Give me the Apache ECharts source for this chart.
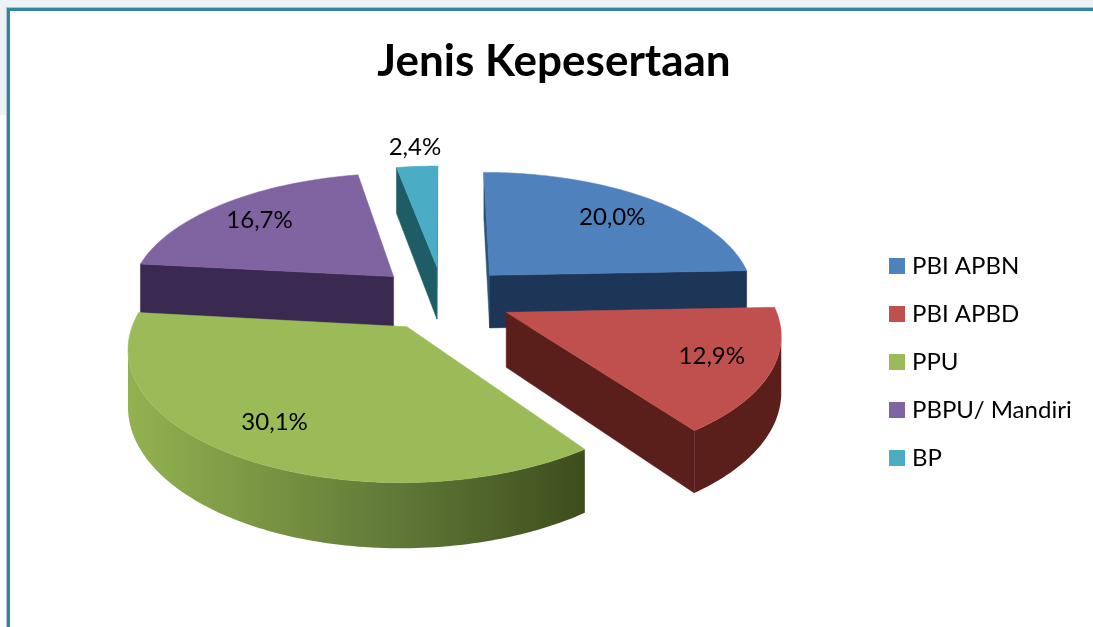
<!DOCTYPE html>
<html>
<head>
<meta charset="utf-8">
<style>html,body{margin:0;padding:0;background:#fff}#c{width:1093px;height:627px}</style>
<script src="https://cdn.jsdelivr.net/npm/echarts@6/dist/echarts.min.js"></script>
</head>
<body>
<div id="c"></div>
<script>
const categories = ['PBI APBN', 'PBI APBD', 'PPU', 'PBPU/ Mandiri', 'BP'];
const seriesValues = [20.0, 12.9, 30.1, 16.7, 2.4];
const titleText = 'Jenis Kepesertaan';

const topColors = ['#4F81BD', '#C0504D', '#9BBB59', '#8064A2', '#4BACC6'];
const wallColors = ['#1D3557', '#5A1F1B', '#6F8A3C', '#3A2950', '#1E5C66'];
const drawOrder = [2, 3, 3, 2, 2];
// label placement: radial position on the slice plus a small screen nudge
const labelPlace = [[0.71, 7, -2], [0.80, -3, -3], [0.87, 8, -17], [0.74, -6, -1], [1.12, 0, -9]];

const FONT = 'Lato, Carlito, sans-serif';
const P = {cx: 443, cy: 298, rx: 266, ry: 124, p: 0.145, explode: 0.26, depth: 54};

const total = seriesValues.reduce((a, b) => a + b, 0);
const starts = [];
seriesValues.reduce((acc, v, i) => { starts[i] = acc; return acc + v; }, 0);

function project(u, v, z) {
  const s = 1 / (1 - P.p * v);
  return [P.cx + P.rx * u * s, P.cy + P.ry * v * s + (z || 0) * P.depth * s];
}

function renderSlice(idx) {
  return function (params, api) {
    const a0 = starts[idx] / total * Math.PI * 2;
    const a1 = (starts[idx] + api.value(0)) / total * Math.PI * 2;
    const mid = (a0 + a1) / 2;
    const ou = Math.sin(mid) * P.explode, ov = -Math.cos(mid) * P.explode;
    const g = (r, a) => [ou + r * Math.sin(a), ov - r * Math.cos(a)];
    const steps = Math.max(6, Math.ceil((a1 - a0) / 0.02));
    const ground = [[ou, ov]];
    for (let k = 0; k <= steps; k++) ground.push(g(1, a0 + (a1 - a0) * k / steps));
    const top = ground.map(q => project(q[0], q[1], 0));
    const bot = ground.map(q => project(q[0], q[1], 1));
    const children = [];
    const wall = (i, j, fill) => ({
      type: 'polygon', silent: true,
      shape: {points: [top[i], top[j], bot[j], bot[i]]},
      style: {fill: fill, stroke: fill, lineWidth: 0.5}
    });
    const n = top.length;
    // radial edges that face the viewer
    if (top[1][0] < top[0][0]) children.push(wall(0, 1, idx === 0 ? '#2A5578' : wallColors[idx]));
    if (top[0][0] < top[n - 1][0]) children.push(wall(n - 1, 0, wallColors[idx]));
    // outer arc, front-facing run
    const run = [];
    for (let i = 1; i < n - 1; i++) if (top[i + 1][0] < top[i][0]) { if (!run.length) run.push(i); run.push(i + 1); }
    if (run.length > 1) {
      const pts = run.map(i => top[i]).concat(run.slice().reverse().map(i => bot[i]));
      const fill = idx === 2
        ? {type: 'linear', x: 130, y: 0, x2: 590, y2: 0, global: true, colorStops: [
            {offset: 0, color: '#92B251'}, {offset: 0.37, color: '#728D3F'},
            {offset: 0.6, color: '#5F7636'}, {offset: 1, color: '#3C4C1C'}]}
        : wallColors[idx];
      children.push({type: 'polygon', silent: true, shape: {points: pts}, style: {fill: fill, stroke: 'none'}});
    }
    children.push({type: 'polygon', silent: true, shape: {points: top},
      style: {fill: topColors[idx], stroke: topColors[idx], lineWidth: 0.5}});
    const lp = labelPlace[idx];
    const lg = g(lp[0], mid);
    const lxy = project(lg[0], lg[1], 0);
    children.push({type: 'text', silent: true, z2: 20, style: {
      x: lxy[0] + lp[1], y: lxy[1] + lp[2],
      text: api.value(0).toFixed(1).replace('.', ',') + '%',
      font: '24px ' + FONT, fill: '#000', align: 'center', verticalAlign: 'middle'
    }});
    return {type: 'group', children: children};
  };
}

const chart = echarts.init(document.getElementById('c'), null, {renderer: 'canvas'});
chart.setOption({
  animation: false,
  backgroundColor: '#ffffff',
  title: {
    text: titleText, left: 549, top: 35, textAlign: 'center',
    textStyle: {fontFamily: FONT, fontWeight: 'bold', fontSize: 44, color: '#000'}
  },
  legend: {
    orient: 'vertical', left: 884, top: 249, selectedMode: false,
    icon: 'rect', itemWidth: 16, itemHeight: 16, itemGap: 24,
    data: categories,
    textStyle: {fontFamily: FONT, fontSize: 24, color: '#000', padding: [0, 0, 0, 2]}
  },
  graphic: [
    {type: 'rect', silent: true, z: -5, shape: {x: 0, y: 0, width: 1093, height: 8}, style: {fill: '#EEF1F6'}},
    {type: 'rect', silent: true, z: -5, shape: {x: 0, y: 0, width: 7, height: 115}, style: {fill: '#EEF1F6'}},
    {type: 'rect', silent: true, z: -4, shape: {x: 6, y: 7, width: 1087, height: 1}, style: {fill: '#A9C5D2'}},
    {type: 'rect', silent: true, z: -4, shape: {x: 6, y: 7, width: 1, height: 620}, style: {fill: '#A9C5D2'}},
    {type: 'rect', silent: true, z: -3, shape: {x: 7, y: 8, width: 1086, height: 3}, style: {fill: '#31869B'}},
    {type: 'rect', silent: true, z: -3, shape: {x: 7, y: 8, width: 3, height: 619}, style: {fill: '#31869B'}}
  ],
  series: categories.map((name, i) => ({
    type: 'custom',
    name: name,
    coordinateSystem: 'none',
    z: drawOrder[i],
    itemStyle: {color: topColors[i]},
    renderItem: renderSlice(i),
    data: [[seriesValues[i]]],
    encode: {value: 0}
  }))
});
</script>
</body>
</html>
